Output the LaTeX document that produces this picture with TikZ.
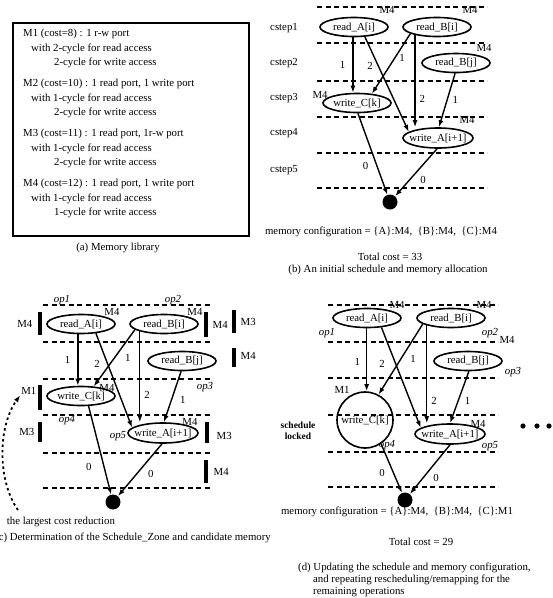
\documentclass[tikz,border=0pt]{standalone}
\usepackage{fontspec}
\setmainfont{Liberation Serif}
\usetikzlibrary{arrows.meta,positioning,shapes.geometric}

\begin{document}
\begin{tikzpicture}[x=1pt, y=-1pt, >={Latex[length=7pt,width=5pt]},
  font=\fontsize{10.8}{13}\selectfont, inner sep=1pt,
  op/.style={draw, ellipse, line width=1.6pt, minimum width=68pt, minimum height=19pt, inner xsep=-8pt, inner ysep=-3pt},
  opw/.style={op, minimum width=70pt, minimum height=20pt},
  sinknode/.style={circle, fill=black, minimum size=15pt, inner sep=0pt},
  dep/.style={->, line width=1.4pt},
  wt/.style={inner sep=0pt},
  rowline/.style={dash pattern=on 5pt off 3.5pt, line width=1.4pt},
  bar/.style={fill=black, inner sep=0pt, minimum width=4.5pt},
  opname/.style={font=\fontsize{10.8}{13}\selectfont\itshape},
  costarr/.style={->, dash pattern=on 2.5pt off 3pt, line width=1.8pt}]
  \useasboundingbox (0,0) rectangle (553,598);

  % --- (a) memory library ---
  \draw[line width=1.4pt] (13,23) rectangle (249,236);
  \node[align=left, anchor=north west, font=\fontsize{10.8}{14.5}\selectfont] (lib) at (22,28) {%
    M1 (cost=8) : 1 r-w port\\
    \hspace*{8pt}with 2-cycle for read access\\
    \hspace*{31pt}2-cycle for write access\\[6.5pt]
    M2 (cost=10) : 1 read port, 1 write port\\
    \hspace*{8pt}with 1-cycle for read access\\
    \hspace*{31pt}2-cycle for write access\\[6.5pt]
    M3 (cost=11) : 1 read port, 1r-w port\\
    \hspace*{8pt}with 1-cycle for read access\\
    \hspace*{31pt}2-cycle for write access\\[6.5pt]
    M4 (cost=12) : 1 read port, 1 write port\\
    \hspace*{8pt}with 1-cycle for read access\\
    \hspace*{31pt}1-cycle for write access};
  \node (capa) at (118,248) {(a) Memory library};

  % --- (b) initial schedule ---
  \foreach \y in {7,43,81,117,153,188}
    \draw[rowline] (317,\y) -- (487,\y);
  \foreach \i/\y in {1/28,2/63,3/98,4/133,5/170}
    \node (cs\i) at (284,\y) {cstep\i};
  \node[op] (bA) at (354,27) {read\_A[i]};
  \node[op] (bB) at (437,27) {read\_B[i]};
  \node[op] (bBj) at (456,63) {read\_B[j]};
  \node[op] (bC) at (357,103) {write\_C[k]};
  \node[opw] (bW) at (438,138) {write\_A[i+1]};
  \node[sinknode] (bS) at (390,202) {};
  \node (bmA) at (387,10) {M4};
  \node (bmB) at (470,10) {M4};
  \node (bmBj) at (484,48) {M4};
  \node (bmC) at (320,95) {M4};
  \node (bmW) at (467,120) {M4};
  \draw[dep] (bA.-96) -- node[wt,left=7pt] (be1) {1} (bA.-96 |- bC.north);
  \draw[dep] (bA.-42) -- node[wt,pos=.31,left=5pt] (be2) {2} (bW.168);
  \draw[dep] (bB.-166) -- node[wt,pos=.41,right=4pt] (be3) {1} (bC.32);
  \draw[dep] (bB.-160) -- node[wt,pos=.69,right=4pt] (be4) {2} (bB.-160 |- bW.north);
  \draw[dep] (bBj.-95) -- node[wt,right=5pt] (be5) {1} (bW.85);
  \draw[dep] (bC.-85) -- node[wt,pos=.65,left=8pt] (be6) {0} (bS);
  \draw[dep] (bW.-95) -- node[wt,pos=.65,right=10pt] (be7) {0} (bS);
  \node (bcfg) at (381,232) {memory configuration = \{A\}:M4,\enspace\{B\}:M4,\enspace\{C\}:M4};
  \node (bcost) at (390,257) {Total cost = 33};
  \node (capb) at (388,270) {(b) An initial schedule and memory allocation};

  % --- (c) schedule zone and candidate memory ---
  \foreach \y in {305,342,379,415,453,488}
    \draw[rowline] (43,\y) -- (212,\y);
  \node[op] (cA) at (81,324) {read\_A[i]};
  \node[op] (cB) at (164,324) {read\_B[i]};
  \node[op] (cBj) at (182,361) {read\_B[j]};
  \node[op] (cC) at (81,396) {write\_C[k]};
  \node[opw] (cW) at (163,433) {write\_A[i+1]};
  \node[sinknode] (cS) at (113,502) {};
  \node (cmA) at (112,312) {M4};
  \node (cmB) at (195,312) {M4};
  \node (cmC) at (107,388) {M4};
  \node (cmW) at (190,422) {M4};
  \node[opname] (cop1) at (62,300) {op1};
  \node[opname] (cop2) at (173,300) {op2};
  \node[opname] (cop3) at (205,387) {op3};
  \node[opname] (cop4) at (67,420) {op4};
  \node[opname] (cop5) at (118,436) {op5};
  \draw[dep] (cA.-107) -- node[wt,left=7pt] (ce1) {1} (cA.-107 |- cC.north);
  \draw[dep] (cA.-32) -- node[wt,pos=.32,left=7pt] (ce2) {2} (cW.170);
  \draw[dep] (cB.-169) -- node[wt,pos=.5,right=10pt] (ce3) {1} (cC.37);
  \draw[dep] (cB.-163) -- node[wt,pos=.7,right=4pt] (ce4) {2} (cB.-163 |- cW.north);
  \draw[dep] (cBj.-95) -- node[wt,pos=.57,right=8pt] (ce5) {1} (cW.85);
  \draw[dep] (cC.-53) -- node[wt,pos=.69,left=12pt] (ce6) {0} (cS);
  \draw[dep] (cW.-95) -- node[wt,pos=.58,right=11pt] (ce7) {0} (cS);
  % candidate memories
  \node[bar, minimum height=23pt] (c1) at (40,323.5) {};
  \node[left=4pt of c1] (c1t) {M4};
  \node[bar, minimum height=25pt] (c2) at (206,324.5) {};
  \node[right=3pt of c2] (c2t) {M4};
  \node[bar, minimum height=23pt] (c3) at (234,321.5) {};
  \node[right=3pt of c3] (c3t) {M3};
  \node[bar, minimum height=19pt] (c4) at (234,357.5) {};
  \node[right=3pt of c4, yshift=2pt] (c4t) {M4};
  \node[bar, minimum height=25pt] (c5) at (40,397.5) {};
  \node[left=0pt of c5, yshift=7pt] (c5t) {M1};
  \node[bar, minimum height=20pt] (c6) at (40,432) {};
  \node[left=2pt of c6] (c6t) {M3};
  \node[bar, minimum height=21pt] (c7) at (207,432.5) {};
  \node[right=6pt of c7, yshift=-3pt] (c7t) {M3};
  \node[bar, minimum height=23pt] (c8) at (206,471.5) {};
  \node[right=4pt of c8] (c8t) {M4};
  \node (lcr) at (61,522) {the largest cost reduction};
  \coordinate (lcrTip) at (18,510);
  \draw[costarr] (lcrTip) .. controls (-2,482) and (-3,428) .. (c5t.south west);
  \node[anchor=east] (capc) at (272,538) {(c) Determination of the Schedule\_Zone and candidate memory};

  % --- (d) updated schedule ---
  \foreach \y in {305,342,378,415,452,487}
    \draw[rowline] (328,\y) -- (498,\y);
  \node[op] (dA) at (367,318) {read\_A[i]};
  \node[op] (dB) at (451,318) {read\_B[i]};
  \node[op] (dBj) at (468,361) {read\_B[j]};
  \node[draw, circle, line width=1.6pt, minimum size=56pt, inner sep=0pt] (dC) at (365,420) {write\_C[k]};
  \node[opw] (dW) at (450,434) {write\_A[i+1]};
  \node[sinknode] (dS) at (405,500) {};
  \node (dmA) at (397,305) {M4};
  \node (dmB) at (484,305) {M4};
  \node (dmBj) at (507,340) {M4};
  \node (dmC) at (342,390) {M1};
  \node (dmW) at (478,424) {M4};
  \node[opname] (dop1) at (327,333) {op1};
  \node[opname] (dop2) at (490,333) {op2};
  \node[opname] (dop3) at (513,372) {op3};
  \node[opname] (dop4) at (387,445) {op4};
  \node[opname] (dop5) at (490,446) {op5};
  \node[align=center, font=\fontsize{9.5}{11}\selectfont\bfseries] (lock) at (298,431) {schedule\\locked};
  \draw[dep] (dA.-92) -- node[wt,pos=.54,left=6pt] (de1) {1} (dA.-92 |- dC.north);
  \draw[dep] (dA.-33) -- node[wt,pos=.36,left=10pt] (de2) {2} (dW.168);
  \draw[dep] (dB.-168) -- node[wt,pos=.5,right=9pt] (de3) {1} (dC.62);
  \draw[dep] (dB.-163) -- node[wt,pos=.77,right=4pt] (de4) {2} (dB.-163 |- dW.north);
  \draw[dep] (dBj.-85) -- node[wt,pos=.57,right=6pt] (de5) {1} (dW.90);
  \draw[dep] (dC.-56) -- node[wt,pos=.59,left=8pt] (de6) {0} (dS);
  \draw[dep] (dW.-90) -- node[wt,pos=.68,right=10pt] (de7) {0} (dS);
  \foreach \x in {523,537,549}
    \fill (\x,426) circle (2.6pt);
  \node (dcfg) at (397,512) {memory configuration = \{A\}:M4,\enspace\{B\}:M4,\enspace\{C\}:M1};
  \node (dcost) at (421,542) {Total cost = 29};
  \node[align=left, anchor=west, font=\fontsize{10.8}{12}\selectfont] (capd) at (297,580) {%
    (d) Updating the schedule and memory configuration,\\
    \hspace*{15pt}and repeating rescheduling/remapping for the\\
    \hspace*{15pt}remaining operations};
\end{tikzpicture}
\end{document}
